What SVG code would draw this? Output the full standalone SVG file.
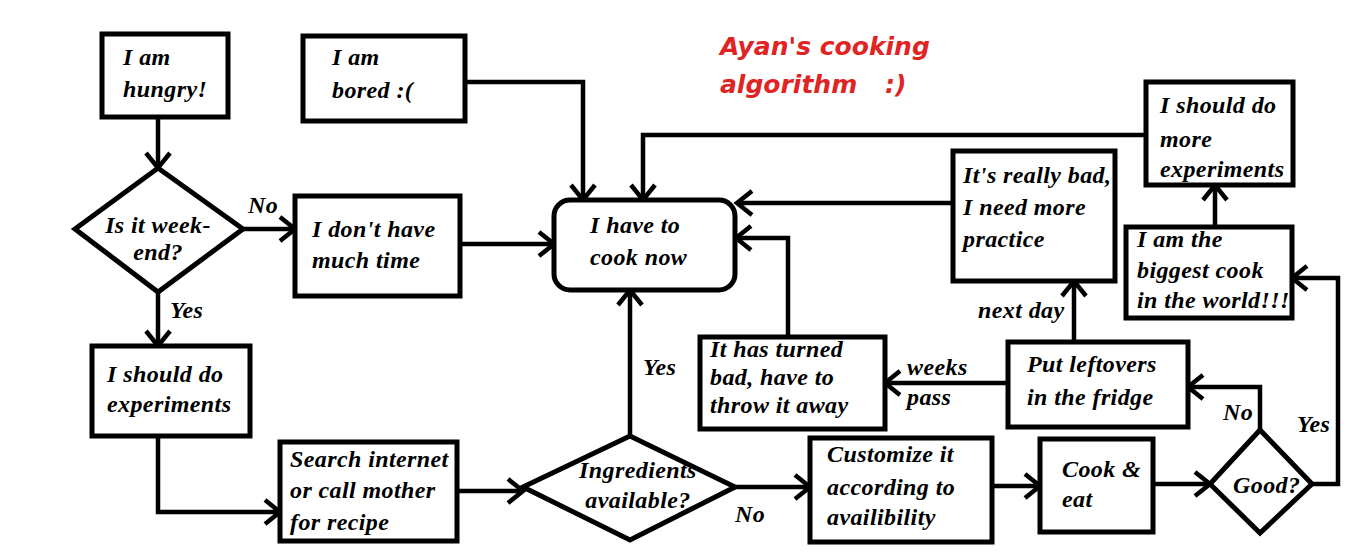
<svg xmlns="http://www.w3.org/2000/svg" width="1356" height="556" viewBox="0 0 1356 556">
<style>
.box{fill:#fff;stroke:#000;stroke-width:5}
.t{font-family:"Liberation Serif","DejaVu Serif",serif;font-style:italic;font-weight:bold;font-size:24px;letter-spacing:0.4px;fill:#000}
.c{fill:none;stroke:#000;stroke-width:4.5;stroke-linejoin:miter}
.title{font-family:"DejaVu Sans","Liberation Sans",sans-serif;font-style:italic;font-weight:bold;font-size:25px;fill:#e02424}
</style>
<defs>
<marker id="ah" markerUnits="userSpaceOnUse" markerWidth="24" markerHeight="28" viewBox="0 0 24 28" refX="20" refY="14" orient="auto">
<path d="M5,2 L20,14 L5,26" fill="none" stroke="#000" stroke-width="4.5"/>
</marker>
</defs>
<rect width="1356" height="556" fill="#fff"/>
<g id="title">
<text class="title" x="720" y="55">Ayan's cooking</text>
<text class="title" x="720" y="93">algorithm <tspan x="885">:)</tspan></text>
</g>
<g id="connectors" class="c">
<path class="c" d="M158,118 V168" marker-end="url(#ah)"/>
<path class="c" d="M243,229 H295" marker-end="url(#ah)"/>
<path class="c" d="M158,292 V346" marker-end="url(#ah)"/>
<path class="c" d="M158,436 V512 H280" marker-end="url(#ah)"/>
<path class="c" d="M457,491 H523" marker-end="url(#ah)"/>
<path class="c" d="M630,436 V290" marker-end="url(#ah)"/>
<path class="c" d="M735,487 H810" marker-end="url(#ah)"/>
<path class="c" d="M992,486 H1040" marker-end="url(#ah)"/>
<path class="c" d="M1153,484 H1210" marker-end="url(#ah)"/>
<path class="c" d="M1260,430 V387 H1188" marker-end="url(#ah)"/>
<path class="c" d="M1312,484 H1338 V278 H1292" marker-end="url(#ah)"/>
<path class="c" d="M1215,227 V185" marker-end="url(#ah)"/>
<path class="c" d="M1145,135 H643 V200" marker-end="url(#ah)"/>
<path class="c" d="M953,203 H737" marker-end="url(#ah)"/>
<path class="c" d="M1074,342 V281" marker-end="url(#ah)"/>
<path class="c" d="M1008,383 H885" marker-end="url(#ah)"/>
<path class="c" d="M788,337 V238 H736" marker-end="url(#ah)"/>
<path class="c" d="M466,82 H583 V200" marker-end="url(#ah)"/>
<path class="c" d="M460,244 H554" marker-end="url(#ah)"/>
</g>
<g id="labels">
<text class="t" x="248" y="213">No</text>
<text class="t" x="170" y="318">Yes</text>
<text class="t" x="643" y="375">Yes</text>
<text class="t" x="735" y="522">No</text>
<text class="t" x="907" y="375">weeks</text>
<text class="t" x="907" y="405">pass</text>
<text class="t" x="978" y="318">next day</text>
<text class="t" x="1223" y="420">No</text>
<text class="t" x="1297" y="432">Yes</text>
</g>
<g id="hungry">
<rect class="box" x="102" y="34" width="126" height="83"/>
<text class="t" x="123" y="65">I am</text>
<text class="t" x="123" y="97">hungry!</text>
</g>
<g id="bored">
<rect class="box" x="303" y="36" width="162" height="85"/>
<text class="t" x="332" y="65">I am</text>
<text class="t" x="332" y="98">bored :(</text>
</g>
<g id="weekend">
<polygon class="box" points="75,229 158,168 243,229 158,292"/>
<text class="t" x="158" y="233" text-anchor="middle">Is it week-</text>
<text class="t" x="158" y="260" text-anchor="middle">end?</text>
</g>
<g id="notime">
<rect class="box" x="295" y="196" width="165" height="100"/>
<text class="t" x="312" y="237">I don't have</text>
<text class="t" x="312" y="268">much time</text>
</g>
<g id="experiments">
<rect class="box" x="92" y="346" width="158" height="90"/>
<text class="t" x="107" y="382">I should do</text>
<text class="t" x="107" y="412">experiments</text>
</g>
<g id="search">
<rect class="box" x="280" y="442" width="177" height="99"/>
<text class="t" x="290" y="467">Search internet</text>
<text class="t" x="290" y="498">or call mother</text>
<text class="t" x="290" y="530">for recipe</text>
</g>
<g id="cook">
<rect class="box" x="554" y="200" width="181" height="90" rx="16" ry="16"/>
<text class="t" x="590" y="233">I have to</text>
<text class="t" x="590" y="265">cook now</text>
</g>
<g id="ingredients">
<polygon class="box" points="523,487 630,436 735,487 630,540"/>
<text class="t" x="638" y="478" text-anchor="middle">Ingredients</text>
<text class="t" x="638" y="508" text-anchor="middle">available?</text>
</g>
<g id="customize">
<rect class="box" x="810" y="438" width="182" height="104"/>
<text class="t" x="827" y="462">Customize it</text>
<text class="t" x="827" y="495">according to</text>
<text class="t" x="827" y="525">availibility</text>
</g>
<g id="cookeat">
<rect class="box" x="1040" y="439" width="113" height="93"/>
<text class="t" x="1062" y="477">Cook &amp;</text>
<text class="t" x="1062" y="507">eat</text>
</g>
<g id="good">
<polygon class="box" points="1210,484 1260,430 1312,484 1260,533"/>
<text class="t" x="1233" y="493">Good?</text>
</g>
<g id="leftovers">
<rect class="box" x="1008" y="342" width="180" height="85"/>
<text class="t" x="1027" y="372">Put leftovers</text>
<text class="t" x="1027" y="405">in the fridge</text>
</g>
<g id="turnedbad">
<rect class="box" x="700" y="337" width="185" height="92"/>
<text class="t" x="710" y="357">It has turned</text>
<text class="t" x="710" y="385">bad, have to</text>
<text class="t" x="710" y="413">throw it away</text>
</g>
<g id="reallybad">
<rect class="box" x="953" y="151" width="162" height="130"/>
<text class="t" x="963" y="183">It's really bad,</text>
<text class="t" x="963" y="215">I need more</text>
<text class="t" x="963" y="247">practice</text>
</g>
<g id="moreexp">
<rect class="box" x="1146" y="82" width="147" height="103"/>
<text class="t" x="1160" y="113">I should do</text>
<text class="t" x="1160" y="147">more</text>
<text class="t" x="1160" y="177">experiments</text>
</g>
<g id="biggest">
<rect class="box" x="1126" y="227" width="166" height="91"/>
<text class="t" x="1137" y="247">I am the</text>
<text class="t" x="1137" y="278">biggest cook</text>
<text class="t" x="1137" y="308">in the world!!!</text>
</g>
</svg>
